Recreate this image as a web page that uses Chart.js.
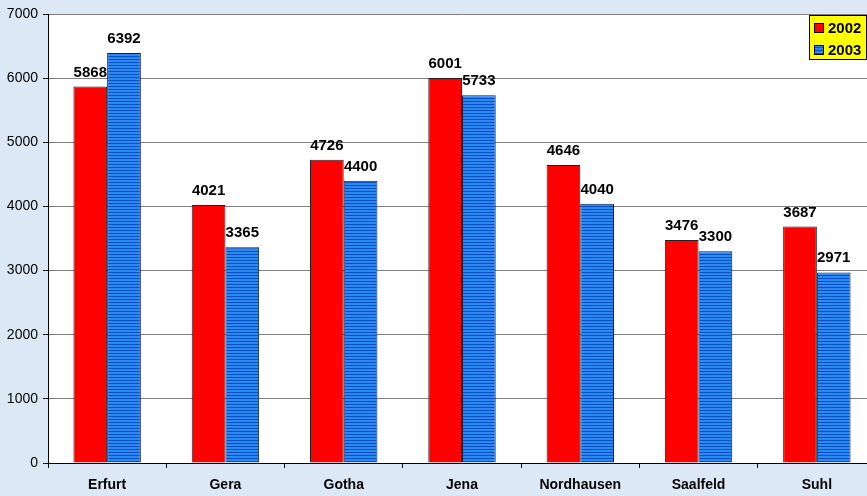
<!DOCTYPE html>
<html>
<head>
<meta charset="utf-8">
<script src="https://cdn.jsdelivr.net/npm/chart.js@4/dist/chart.umd.min.js"></script>
<style>
    html, body { margin: 0; padding: 0; overflow: hidden; background: #dce8f5; }
    #wrap { width: 876px; height: 496px; }
</style>
</head>
<body>
<div id="wrap"><canvas id="chart" width="876" height="496"></canvas></div>
<script>
    // Data
    const cities = ['Erfurt', 'Gera', 'Gotha', 'Jena', 'Nordhausen', 'Saalfeld', 'Suhl'];
    const values2002 = [5868, 4021, 4726, 6001, 4646, 3476, 3687];
    const values2003 = [6392, 3365, 4400, 5733, 4040, 3300, 2971];
    const yTicks = [0, 1000, 2000, 3000, 4000, 5000, 6000, 7000];

    const FONT = '"Liberation Sans", Arial, sans-serif';

    // Striped blue fill for 2003
    function makeStripes() {
        const c = document.createElement('canvas');
        c.width = 1; c.height = 3;
        const g = c.getContext('2d');
        g.fillStyle = '#2b8af2'; g.fillRect(0, 0, 1, 2);
        g.fillStyle = '#0b4fc4'; g.fillRect(0, 2, 1, 1);
        return g.createPattern(c, 'repeat');
    }

    // White plot area
    const plotBg = {
        id: 'plotBg',
        beforeDraw(chart) {
            const a = chart.chartArea;
            chart.ctx.save();
            chart.ctx.fillStyle = '#fff';
            chart.ctx.fillRect(a.left, a.top, a.right - a.left, a.bottom - a.top);
            chart.ctx.restore();
        }
    };

    // Value labels above bars
    const valueLabels = {
        id: 'valueLabels',
        afterDatasetsDraw(chart) {
            const ctx = chart.ctx;
            ctx.save();
            ctx.font = 'bold 15px ' + FONT;
            ctx.fillStyle = '#000';
            ctx.textAlign = 'center';
            ctx.textBaseline = 'alphabetic';
            chart.data.datasets.forEach((ds, i) => {
                chart.getDatasetMeta(i).data.forEach((bar, j) => {
                    ctx.fillText(String(ds.data[j]), bar.x, bar.y - 10);
                });
            });
            ctx.restore();
        }
    };

    // Yellow legend box in the top right corner
    const boxLegend = {
        id: 'boxLegend',
        afterDraw(chart) {
            const ctx = chart.ctx;
            const x = 809, y = 15, w = 58, h = 45;
            ctx.save();
            ctx.fillStyle = '#ffff00';
            ctx.fillRect(x, y, w, h);
            ctx.strokeStyle = '#000';
            ctx.lineWidth = 1;
            ctx.strokeRect(x + 0.5, y + 0.5, w - 1, h - 1);
            ctx.font = 'bold 15px ' + FONT;
            ctx.textBaseline = 'middle';
            chart.data.datasets.forEach((ds, i) => {
                const cy = y + 13 + i * 22;
                ctx.fillStyle = ds.backgroundColor;
                ctx.fillRect(815, cy - 4, 8, 8);
                ctx.strokeStyle = '#000';
                ctx.strokeRect(814.5, cy - 4.5, 9, 9);
                ctx.fillStyle = '#000';
                ctx.fillText(ds.label, 828, cy + 1);
            });
            ctx.restore();
        }
    };

    new Chart(document.getElementById('chart'), {
        type: 'bar',
        data: {
            labels: cities,
            datasets: [
                { label: '2002', data: values2002, backgroundColor: '#ff0000', borderColor: '#222', borderWidth: 1 },
                { label: '2003', data: values2003, backgroundColor: makeStripes(), borderColor: '#0a1f4a', borderWidth: 1 }
            ]
        },
        options: {
            responsive: false,
            animation: false,
            layout: { padding: { top: 14, right: 0, left: 0, bottom: 0 } },
            datasets: { bar: { categoryPercentage: 0.57, barPercentage: 1 } },
            plugins: { legend: { display: false }, tooltip: { enabled: false } },
            scales: {
                x: {
                    afterFit: s => { s.height = 33; },
                    grid: { drawOnChartArea: false, drawTicks: true, tickLength: 5, color: '#000' },
                    border: { color: '#000' },
                    ticks: { color: '#000', padding: 9, font: { family: FONT, size: 14, weight: 'bold' } }
                },
                y: {
                    min: 0, max: 7000,
                    afterFit: s => { s.width = 48; },
                    afterBuildTicks: s => { s.ticks = yTicks.map(v => ({ value: v })); },
                    grid: { color: '#808080', tickColor: '#000', tickLength: 5 },
                    border: { color: '#000' },
                    ticks: { color: '#000', padding: 5, callback: v => String(v), font: { family: FONT, size: 14 } }
                }
            }
        },
        plugins: [plotBg, valueLabels, boxLegend]
    });
</script>
</body>
</html>
